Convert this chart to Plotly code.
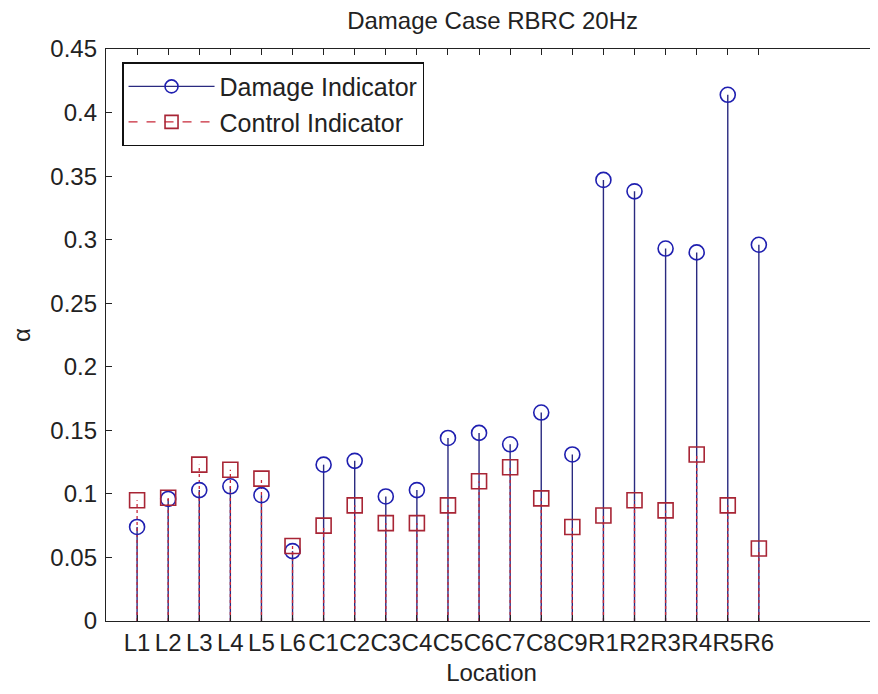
import plotly.graph_objects as go

locations = ["L1", "L2", "L3", "L4", "L5", "L6",
             "C1", "C2", "C3", "C4", "C5", "C6", "C7", "C8", "C9",
             "R1", "R2", "R3", "R4", "R5", "R6"]
damage = [0.074, 0.096, 0.103, 0.106, 0.099, 0.055,
          0.123, 0.126, 0.098, 0.103, 0.144, 0.148, 0.139, 0.164, 0.131,
          0.347, 0.338, 0.293, 0.290, 0.414, 0.296]
control = [0.095, 0.097, 0.123, 0.119, 0.112, 0.059,
           0.075, 0.091, 0.077, 0.077, 0.091, 0.110, 0.121, 0.0965, 0.074,
           0.083, 0.095, 0.087, 0.131, 0.091, 0.057]
y_ticks = [0, 0.05, 0.1, 0.15, 0.2, 0.25, 0.3, 0.35, 0.4, 0.45]

positions = list(range(1, len(locations) + 1))

BLUE_LINE = "#2a2a80"
BLUE_MARK = "#1f1fb0"
RED_LINE = "#c82838"
RED_MARK = "#a82535"
TXT = "#222222"
FONT = "Liberation Sans, Arial, sans-serif"


def stems(xs, ys):
    sx, sy = [], []
    for x, y in zip(xs, ys):
        sx += [x, x, None]
        sy += [0, y, None]
    return sx, sy


fig = go.Figure()

dx, dy = stems(positions, damage)
cx, cy = stems(positions, control)

fig.add_trace(go.Scatter(x=dx, y=dy, mode="lines",
                         line=dict(color=BLUE_LINE, width=1.4),
                         showlegend=False, hoverinfo="skip"))
fig.add_trace(go.Scatter(x=cx, y=cy, mode="lines",
                         line=dict(color=RED_LINE, width=1.3, dash="dot"),
                         showlegend=False, hoverinfo="skip"))
fig.add_trace(go.Scatter(x=positions, y=damage, mode="markers",
                         marker=dict(symbol="circle-open", size=15,
                                     color=BLUE_MARK, line=dict(width=1.6)),
                         showlegend=False))
fig.add_trace(go.Scatter(x=positions, y=control, mode="markers",
                         marker=dict(symbol="square-open", size=15,
                                     color=RED_MARK, line=dict(width=1.6)),
                         showlegend=False))

# legend entries
fig.add_trace(go.Scatter(x=[None], y=[None], mode="lines+markers",
                         name="Damage Indicator",
                         line=dict(color=BLUE_LINE, width=1.4),
                         marker=dict(symbol="circle-open", size=13,
                                     color=BLUE_MARK, line=dict(width=1.6))))
fig.add_trace(go.Scatter(x=[None], y=[None], mode="lines+markers",
                         name="Control Indicator",
                         line=dict(color=RED_LINE, width=1.3, dash="dash"),
                         marker=dict(symbol="square-open", size=13,
                                     color=RED_MARK, line=dict(width=1.6))))

# page has an 8px body margin; figure coords are page coords minus 8
fig.update_layout(
    width=870, height=678,
    margin=dict(l=98, r=1, t=41, b=65),
    paper_bgcolor="white", plot_bgcolor="white",
    font=dict(family=FONT, size=24, color=TXT),
    title=dict(text="Damage Case RBRC 20Hz", x=0.557, xanchor="center",
               xref="container", yref="container",
               y=0.982, yanchor="middle",
               font=dict(family=FONT, size=24, color=TXT)),
    showlegend=True,
    legend=dict(x=0.0208, y=0.977, xanchor="left", yanchor="top",
                bgcolor="white", bordercolor="#111111", borderwidth=1.5,
                font=dict(family=FONT, size=25, color=TXT),
                itemwidth=86, tracegroupgap=0),
)

fig.update_xaxes(
    range=[0, 24.8], automargin=False,
    tickmode="array", tickvals=positions, ticktext=locations, tickangle=0,
    ticks="inside", ticklen=6, tickcolor=TXT,
    showline=True, linecolor=TXT, linewidth=1.3, mirror="ticks",
    showgrid=False, zeroline=False,
    tickfont=dict(family=FONT, size=24, color=TXT),
    title=dict(text="Location", font=dict(family=FONT, size=24, color=TXT),
               standoff=10),
)
fig.update_yaxes(
    range=[0, 0.45], automargin=False,
    tickmode="array", tickvals=y_ticks, ticktext=[f"{v:g}" for v in y_ticks],
    ticks="inside", ticklen=6, tickcolor=TXT, ticklabelstandoff=3,
    showline=True, linecolor=TXT, linewidth=1.3, mirror="ticks",
    showgrid=False, zeroline=False,
    tickfont=dict(family=FONT, size=24, color=TXT),
    title=dict(text="α", font=dict(family=FONT, size=24, color=TXT),
               standoff=26),
)

fig.write_html("out.html")
